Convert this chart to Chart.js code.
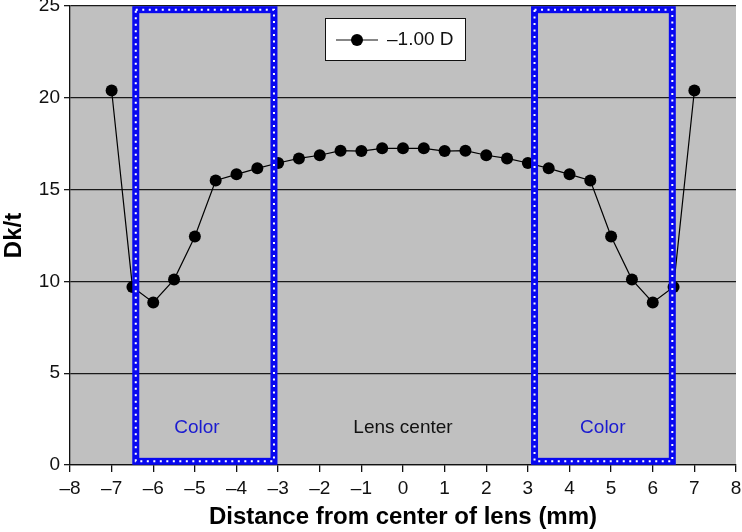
<!DOCTYPE html>
<html>
<head>
<meta charset="utf-8">
<script src="https://cdn.jsdelivr.net/npm/chart.js@4"></script>
<style>
  html, body { margin: 0; padding: 0; background: #fff; }
  canvas { display: block; }
</style>
</head>
<body>
<canvas id="chart" width="742" height="532"></canvas>
<script>
// Dk/t across the lens (-1.00 D)
const distances = [-7, -6.5, -6, -5.5, -5, -4.5, -4, -3.5, -3, -2.5, -2, -1.5, -1, -0.5, 0,
  0.5, 1, 1.5, 2, 2.5, 3, 3.5, 4, 4.5, 5, 5.5, 6, 6.5, 7];
const dkValues = [20.4, 9.7, 8.85, 10.1, 12.45, 15.5, 15.83, 16.16, 16.45, 16.7, 16.87, 17.12, 17.1, 17.25, 17.25,
  17.25, 17.1, 17.12, 16.87, 16.7, 16.45, 16.16, 15.83, 15.5, 12.45, 10.1, 8.85, 9.7, 20.4];
const seriesLabel = '\u20131.00 D';

// colored zones (x ranges) and their labels
const zones = [[-6.42, -3.1], [3.16, 6.47]];
const zoneY = [0.2, 24.8];
const notes = [
  { text: 'Color', x: -4.95, y: 2.05, color: '#1a1ad0' },
  { text: 'Lens center', x: 0, y: 2.05, color: '#111' },
  { text: 'Color', x: 4.8, y: 2.05, color: '#1a1ad0' }
];

const FONT = "'Liberation Sans', Arial, sans-serif";
const dash = v => String(v).replace('-', '\u2013');

const plotBg = {
  id: 'plotBg',
  beforeDraw(chart) {
    const { ctx, chartArea: a } = chart;
    ctx.save();
    ctx.fillStyle = '#c0c0c0';
    ctx.fillRect(a.left, a.top, a.right - a.left, a.bottom - a.top);
    ctx.restore();
  }
};

const overlays = {
  id: 'overlays',
  afterDatasetsDraw(chart) {
    const { ctx, scales: { x, y } } = chart;
    ctx.save();
    zones.forEach(z => {
      const l = x.getPixelForValue(z[0]), r = x.getPixelForValue(z[1]);
      const t = y.getPixelForValue(zoneY[1]), b = y.getPixelForValue(zoneY[0]);
      ctx.setLineDash([]);
      ctx.strokeStyle = '#0808f0';
      ctx.lineWidth = 7;
      ctx.strokeRect(l, t, r - l, b - t);
      ctx.setLineDash([2, 4.5]);
      ctx.strokeStyle = '#ffffff';
      ctx.lineWidth = 2;
      ctx.strokeRect(l, t, r - l, b - t);
    });
    ctx.setLineDash([]);
    ctx.font = '19px ' + FONT;
    ctx.textAlign = 'center';
    ctx.textBaseline = 'middle';
    notes.forEach(n => {
      ctx.fillStyle = n.color;
      ctx.fillText(n.text, x.getPixelForValue(n.x), y.getPixelForValue(n.y));
    });
    ctx.restore();
  },
  afterDraw(chart) {
    // legend box
    const { ctx } = chart;
    ctx.save();
    ctx.fillStyle = '#fff';
    ctx.fillRect(325, 18, 140, 42);
    ctx.strokeStyle = '#111';
    ctx.lineWidth = 1;
    ctx.strokeRect(325.5, 18.5, 140, 42);
    ctx.beginPath();
    ctx.moveTo(336, 40);
    ctx.lineTo(378, 40);
    ctx.lineWidth = 1.2;
    ctx.stroke();
    ctx.beginPath();
    ctx.arc(357, 40, 6, 0, Math.PI * 2);
    ctx.fillStyle = '#000';
    ctx.fill();
    ctx.font = '19px ' + FONT;
    ctx.textBaseline = 'middle';
    ctx.fillStyle = '#111';
    ctx.fillText(seriesLabel, 387, 40);
    ctx.restore();
  }
};

new Chart(document.getElementById('chart'), {
  type: 'scatter',
  data: {
    datasets: [{
      label: seriesLabel,
      data: distances.map((d, i) => ({ x: d, y: dkValues[i] })),
      showLine: true,
      borderColor: '#000',
      borderWidth: 1.2,
      backgroundColor: '#000',
      pointBackgroundColor: '#000',
      pointBorderWidth: 0,
      pointRadius: 6,
      clip: false
    }]
  },
  options: {
    responsive: false,
    animation: false,
    layout: { padding: { left: 0, right: 5, top: 4, bottom: 0 } },
    plugins: {
      legend: { display: false },
      tooltip: { enabled: false }
    },
    scales: {
      x: {
        type: 'linear',
        min: -8,
        max: 8,
        afterFit(s) { s.height = 67; s.paddingLeft = 0; s.paddingRight = 0; },
        ticks: {
          stepSize: 1,
          color: '#111',
          padding: 5,
          maxRotation: 0,
          font: { family: FONT, size: 19 },
          callback: v => dash(v)
        },
        grid: { drawOnChartArea: false, drawTicks: true, tickLength: 7, color: '#111', lineWidth: 1.3 },
        border: { display: true, color: '#111', width: 1.3 },
        title: {
          display: true,
          text: 'Distance from center of lens (mm)',
          color: '#000',
          font: { family: FONT, size: 24, weight: 'bold' },
          padding: { top: 0, bottom: 0 }
        }
      },
      y: {
        min: 0,
        max: 25,
        afterFit(s) { s.width = 70; s.paddingTop = 0; s.paddingBottom = 0; },
        ticks: {
          stepSize: 5,
          color: '#111',
          padding: 4,
          font: { family: FONT, size: 19 }
        },
        grid: { color: '#1a1a1a', lineWidth: 1.3, tickLength: 6 },
        border: { display: true, color: '#111', width: 1.3 },
        title: {
          display: true,
          text: 'Dk/t',
          color: '#000',
          font: { family: FONT, size: 24, weight: 'bold' },
          padding: { top: 0, bottom: 0 }
        }
      }
    }
  },
  plugins: [plotBg, overlays]
});
</script>
</body>
</html>
